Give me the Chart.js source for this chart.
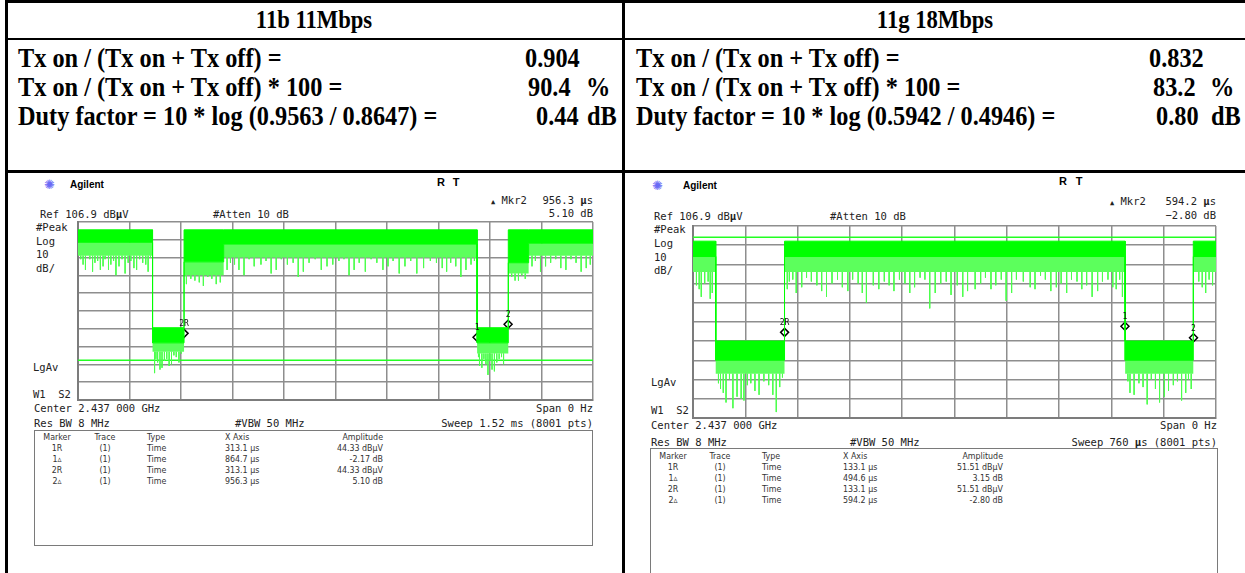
<!DOCTYPE html>
<html>
<head>
<meta charset="utf-8">
<title>Duty cycle 11b / 11g</title>
<script src="https://cdn.jsdelivr.net/npm/chart.js@4.4.0/dist/chart.umd.min.js"></script>
<style>
  body { margin: 0; width: 1245px; height: 573px; background: #fff; position: relative; overflow: hidden; }
  .ln { position: absolute; background: #000; }
  .t { position: absolute; white-space: nowrap; line-height: 1; }
  .l { transform: translateY(-50%); }
  .r { transform: translate(-100%, -50%); }
  .c { transform: translate(-50%, -50%); }
  .hd { font: bold 26px "Liberation Serif", "Times New Roman", serif; transform: translate(-50%, -50%) scaleX(0.87); }
  .rw { font: bold 27px "Liberation Serif", "Times New Roman", serif; transform: translateY(-50%) scaleX(0.9); transform-origin: 0 50%; }
  .sa { font: 10.5px "DejaVu Sans Mono", monospace; color: #222; }
  .tb { font: 8.8px "DejaVu Sans Condensed", "DejaVu Sans", sans-serif; color: #333; }
  .ag { font: bold 10px "Liberation Sans", Arial, sans-serif; }
  .logo { font: 13px "DejaVu Sans", sans-serif; color: #6a6af5; }
  .rt { font: bold 11px "Liberation Sans", Arial, sans-serif; }
  .box { position: absolute; border: 1.5px solid #7a7a7a; }
  canvas { position: absolute; }
</style>
</head>
<body>

<!-- table frame -->
<div class="ln" style="left:5px;top:0;width:1240px;height:3px"></div>
<div class="ln" style="left:5px;top:0;width:3px;height:573px"></div>
<div class="ln" style="left:622px;top:0;width:3px;height:573px"></div>
<div class="ln" style="left:5px;top:38px;width:1240px;height:2px"></div>
<div class="ln" style="left:5px;top:170px;width:1240px;height:3px"></div>

<div class="t hd" style="left:314px;top:20px">11b 11Mbps</div>
<div class="t hd" style="left:935px;top:20px">11g 18Mbps</div>

<!-- 11b results -->
<div class="t rw" style="left:18px;top:58px">Tx on / (Tx on + Tx off) =</div>
<div class="t rw" style="left:18px;top:87px">Tx on / (Tx on + Tx off) * 100 =</div>
<div class="t rw" style="left:18px;top:116px">Duty factor = 10 * log (0.9563 / 0.8647) =</div>
<div class="t rw" style="left:525px;top:58px">0.904</div>
<div class="t rw" style="left:528px;top:87px">90.4</div>
<div class="t rw" style="left:586px;top:87px">%</div>
<div class="t rw" style="left:536px;top:116px">0.44</div>
<div class="t rw" style="left:587px;top:116px">dB</div>

<!-- 11g results -->
<div class="t rw" style="left:636px;top:58px">Tx on / (Tx on + Tx off) =</div>
<div class="t rw" style="left:636px;top:87px">Tx on / (Tx on + Tx off) * 100 =</div>
<div class="t rw" style="left:636px;top:116px">Duty factor = 10 * log (0.5942 / 0.4946) =</div>
<div class="t rw" style="left:1149px;top:58px">0.832</div>
<div class="t rw" style="left:1153px;top:87px">83.2</div>
<div class="t rw" style="left:1210px;top:87px">%</div>
<div class="t rw" style="left:1156px;top:116px">0.80</div>
<div class="t rw" style="left:1211px;top:116px">dB</div>

<!-- 11b analyzer screen -->
<div class="t l logo" style="left:44px;top:184px">✺</div>
<div class="t l ag" style="left:70px;top:184px">Agilent</div>
<div class="t c rt" style="left:441px;top:182px">R</div>
<div class="t c rt" style="left:456px;top:182px">T</div>
<div class="t l sa" style="left:491px;top:200px"><span style="font-size:7px">▲</span> Mkr2</div>
<div class="t r sa" style="left:593px;top:200px">956.3 <b>µ</b>s</div>
<div class="t r sa" style="left:593px;top:213px">5.10 dB</div>
<div class="t l sa" style="left:40px;top:214px">Ref 106.9 dB<b>µ</b>V</div>
<div class="t l sa" style="left:213px;top:214px">#Atten 10 dB</div>
<div class="t l sa" style="left:36px;top:227px">#Peak</div>
<div class="t l sa" style="left:36px;top:241px">Log</div>
<div class="t l sa" style="left:36px;top:254px">10</div>
<div class="t l sa" style="left:36px;top:268px">dB/</div>
<div class="t l sa" style="left:33px;top:367px">LgAv</div>
<div class="t l sa" style="left:33px;top:394px">W1&nbsp;&nbsp;S2</div>
<div class="t l sa" style="left:34px;top:408px">Center 2.437 000 GHz</div>
<div class="t r sa" style="left:593px;top:408px">Span 0 Hz</div>
<div class="t l sa" style="left:34px;top:423px">Res BW 8 MHz</div>
<div class="t l sa" style="left:235px;top:423px">#VBW 50 MHz</div>
<div class="t r sa" style="left:593px;top:423px">Sweep 1.52 ms (8001 pts)</div>
<div class="box" style="left:34px;top:430px;width:557px;height:114px"></div>
<canvas id="chart11b" width="517" height="180" style="left:77px;top:221px"></canvas>

<!-- 11g analyzer screen -->
<div class="t l logo" style="left:652px;top:185px">✺</div>
<div class="t l ag" style="left:683px;top:185px">Agilent</div>
<div class="t c rt" style="left:1063px;top:181px">R</div>
<div class="t c rt" style="left:1079px;top:181px">T</div>
<div class="t l sa" style="left:1110px;top:201px"><span style="font-size:7px">▲</span> Mkr2</div>
<div class="t r sa" style="left:1216px;top:201px">594.2 <b>µ</b>s</div>
<div class="t r sa" style="left:1216px;top:215px">−2.80 dB</div>
<div class="t l sa" style="left:654px;top:216px">Ref 106.9 dB<b>µ</b>V</div>
<div class="t l sa" style="left:830px;top:216px">#Atten 10 dB</div>
<div class="t l sa" style="left:654px;top:229px">#Peak</div>
<div class="t l sa" style="left:654px;top:243px">Log</div>
<div class="t l sa" style="left:654px;top:257px">10</div>
<div class="t l sa" style="left:654px;top:270px">dB/</div>
<div class="t l sa" style="left:651px;top:382px">LgAv</div>
<div class="t l sa" style="left:651px;top:410px">W1&nbsp;&nbsp;S2</div>
<div class="t l sa" style="left:651px;top:425px">Center 2.437 000 GHz</div>
<div class="t r sa" style="left:1217px;top:425px">Span 0 Hz</div>
<div class="t l sa" style="left:651px;top:442px">Res BW 8 MHz</div>
<div class="t l sa" style="left:850px;top:442px">#VBW 50 MHz</div>
<div class="t r sa" style="left:1217px;top:442px">Sweep 760 <b>µ</b>s (8001 pts)</div>
<div class="box" style="left:650px;top:448px;width:566px;height:140px"></div>
<canvas id="chart11g" width="525" height="194" style="left:692px;top:225px"></canvas>

<script>
// reference level 106.9 dBµV, 10 dB/div, 10 divisions
const levelGrid = [6.9, 16.9, 26.9, 36.9, 46.9, 56.9, 66.9, 76.9, 86.9, 96.9, 106.9];

// ---- 11b 11Mbps, sweep 1.52 ms ----
const bTimeGrid = [0, 152, 304, 456, 608, 760, 912, 1064, 1216, 1368, 1520];
const bEdges = [0, 220, 313, 430, 1178, 1270, 1330, 1520];       // µs
const bTop   = [102.5, 47.5, 102.5, 102.5, 47.5, 102.5, 102.5];  // top of noise
const bCore  = [95.5, 39, 84.5, 94.5, 39, 84, 95];              // bottom of solid part
const bFloor = [88, 34, 77, 87, 33, 78, 88];                     // bottom of dense part
const bSpikes = [
  [8, 86], [15, 83], [22, 80], [35, 86], [43, 79], [50, 84], [58, 85], [66, 80], [74, 82],
  [80, 86], [90, 80], [97, 83], [105, 85], [112, 77], [121, 82], [130, 86], [139, 78],
  [148, 84], [156, 85], [165, 81], [173, 80], [182, 86], [191, 84], [200, 83], [207, 79], [214, 87],
  [226, 22], [230, 30], [235, 28], [242, 24], [248, 25], [255, 29], [262, 30], [269, 26],
  [276, 27], [283, 32], [290, 31], [298, 28], [305, 33],
  [320, 72], [333, 75], [345, 74], [358, 73], [370, 71], [383, 76], [395, 75], [408, 72], [420, 73],
  [440, 80], [450, 84], [462, 83], [475, 80], [490, 77], [505, 86], [520, 82], [540, 83],
  [555, 85], [570, 78], [585, 80], [600, 86], [618, 83], [635, 84], [650, 76], [665, 79],
  [682, 84], [700, 86], [718, 80], [735, 82], [752, 83], [770, 85], [785, 86], [800, 77],
  [815, 80], [830, 84], [848, 79], [865, 86], [882, 84], [900, 80], [915, 82], [930, 85],
  [948, 78], [965, 82], [982, 85], [1000, 78], [1020, 81], [1040, 85], [1058, 84], [1075, 81],
  [1088, 79], [1100, 84], [1115, 82], [1130, 76], [1145, 80], [1160, 83], [1170, 85],
  [1182, 31], [1185, 26], [1192, 25], [1198, 30], [1204, 27], [1210, 21], [1216, 29],
  [1222, 24], [1229, 23], [1236, 28], [1243, 30], [1250, 31], [1256, 27], [1262, 33],
  [1280, 76], [1290, 74], [1300, 74], [1310, 77], [1320, 75],
  [1340, 82], [1350, 85], [1365, 79], [1380, 82], [1395, 84], [1410, 86], [1425, 81],
  [1440, 80], [1455, 86], [1470, 84], [1485, 79], [1500, 81], [1512, 83]
];
const bDisplayLine = 29.2;
const bMkrTime  = [313.1, 1177.8, 1269.4];
const bMkrLevel = [44.33, 42.16, 49.43];
const bMkrLabel = ['2R', '1', '2'];
const bTable = [
  ['1R', '(1)', 'Time', '313.1 µs', '44.33 dBµV'],
  ['1▵', '(1)', 'Time', '864.7 µs', '-2.17 dB'],
  ['2R', '(1)', 'Time', '313.1 µs', '44.33 dBµV'],
  ['2▵', '(1)', 'Time', '956.3 µs', '5.10 dB']
];

// ---- 11g 18Mbps, sweep 760 µs ----
const gTimeGrid = [0, 76, 152, 228, 304, 380, 456, 532, 608, 684, 760];
const gEdges = [0, 33, 133, 628, 727, 760];
const gTop   = [99, 47, 99, 47, 99];
const gCore  = [91, 37, 91, 37, 91];
const gFloor = [83, 30, 83, 30, 83];
const gSpikes = [
  [5, 76], [9, 74], [12, 70], [17, 77], [22, 78], [25, 69], [28, 72],
  [37, 25], [40, 22], [44, 20], [48, 15], [53, 27], [58, 12], [64, 18], [70, 17], [74, 16],
  [79, 24], [84, 25], [90, 21], [96, 19], [103, 26], [110, 24], [116, 19], [121, 10], [126, 23], [130, 28],
  [137, 74], [140, 78], [145, 79], [150, 72], [158, 75], [165, 80], [172, 78], [180, 76],
  [187, 73], [194, 70], [202, 77], [210, 79], [217, 75], [225, 73], [232, 79], [240, 77],
  [246, 72], [252, 67], [262, 76], [270, 74], [278, 78], [285, 76], [292, 73], [300, 79],
  [308, 77], [315, 72], [322, 75], [330, 80], [337, 79], [344, 64], [352, 72], [360, 77],
  [368, 78], [375, 71], [384, 76], [392, 70], [399, 73], [410, 74], [418, 77], [425, 80],
  [433, 74], [440, 76], [448, 79], [455, 68], [463, 72], [470, 79], [480, 78], [490, 75],
  [497, 74], [505, 81], [512, 79], [520, 73], [528, 75], [535, 77], [543, 72], [550, 79],
  [558, 78], [565, 74], [572, 76], [580, 70], [588, 73], [595, 78], [603, 79], [610, 75],
  [615, 74], [620, 79], [624, 70],
  [632, 26], [635, 20], [641, 19], [648, 25], [654, 23], [660, 14], [666, 27], [672, 22],
  [678, 15], [685, 18], [691, 21], [698, 24], [704, 26], [710, 16], [716, 20], [720, 27], [724, 22],
  [735, 78], [740, 75], [745, 72], [750, 79], [755, 76]
];
const gDisplayLine = 101;
const gMkrTime  = [133.1, 627.7, 727.3];
const gMkrLevel = [51.51, 54.66, 48.71];
const gMkrLabel = ['2R', '1', '2'];
const gTable = [
  ['1R', '(1)', 'Time', '133.1 µs', '51.51 dBµV'],
  ['1▵', '(1)', 'Time', '494.6 µs', '3.15 dB'],
  ['2R', '(1)', 'Time', '133.1 µs', '51.51 dBµV'],
  ['2▵', '(1)', 'Time', '594.2 µs', '-2.80 dB']
];
const tableHead = ['Marker', 'Trace', 'Type', 'X Axis', 'Amplitude'];

// step outline of a segmented band
function steps(edges, vals) {
  const pts = [];
  vals.forEach((v, i) => {
    pts.push({ x: edges[i], y: v }, { x: edges[i + 1], y: v });
  });
  return pts;
}

function levelAt(edges, vals, t) {
  for (let i = 0; i < vals.length; i++) {
    if (t >= edges[i] && t < edges[i + 1]) return vals[i];
  }
  return vals[vals.length - 1];
}

// little labels above the marker diamonds
const markerLabels = {
  id: 'markerLabels',
  afterDatasetsDraw(chart) {
    const { ctx } = chart;
    const idx = chart.data.datasets.findIndex(d => d.mkrLabels);
    const ds = chart.data.datasets[idx];
    const meta = chart.getDatasetMeta(idx);
    ctx.save();
    ctx.fillStyle = '#111';
    ctx.font = '8px "DejaVu Sans Mono", monospace';
    ctx.textAlign = 'center';
    ctx.textBaseline = 'bottom';
    meta.data.forEach((pt, i) => {
      ctx.fillText(ds.mkrLabels[i], pt.x, pt.y - 5);
    });
    ctx.restore();
  }
};

function drawTrace(id, edges, top, core, floor, spikes, displayLvl, mkrT, mkrL, mkrLbl, timeGrid) {
  let spk = [];
  spikes.forEach(([t, lv]) => {
    spk.push({ x: t, y: levelAt(edges, floor, t) }, { x: t, y: lv }, { x: t, y: null });
  });

  const sweep = timeGrid[timeGrid.length - 1];
  const gridStyle = { color: '#8e8e8e', lineWidth: 1.5, drawTicks: false };

  new Chart(document.getElementById(id).getContext('2d'), {
    type: 'line',
    data: {
      datasets: [
        { data: steps(edges, top), borderColor: '#00ff00', borderWidth: 1, fill: false },
        { data: steps(edges, core), borderColor: '#00ff00', borderWidth: 1, fill: '-1', backgroundColor: '#00ff00' },
        { data: steps(edges, floor), borderColor: 'rgba(0,0,0,0)', borderWidth: 0, fill: '-1', backgroundColor: '#5cff5c' },
        { data: spk, borderColor: '#4cff4c', borderWidth: 1, spanGaps: false },
        { data: [{ x: 0, y: displayLvl }, { x: sweep, y: displayLvl }], borderColor: '#22ff22', borderWidth: 1.5 },
        {
          data: mkrT.map((t, i) => ({ x: t, y: mkrL[i] })),
          mkrLabels: mkrLbl,
          showLine: false,
          pointStyle: 'rectRot',
          pointRadius: 4,
          pointBorderWidth: 1.5,
          pointBorderColor: '#000',
          pointBackgroundColor: 'rgba(0,0,0,0)'
        }
      ]
    },
    plugins: [markerLabels],
    options: {
      responsive: false,
      devicePixelRatio: 1,
      animation: false,
      layout: { padding: 1, autoPadding: false },
      elements: { point: { radius: 0 }, line: { tension: 0 } },
      plugins: { legend: { display: false }, tooltip: { enabled: false } },
      scales: {
        x: {
          type: 'linear', min: 0, max: sweep,
          ticks: { display: false },
          grid: gridStyle,
          border: { color: '#7c7c7c', width: 2 },
          afterFit: s => { s.height = 0; },
          afterBuildTicks: s => { s.ticks = timeGrid.map(v => ({ value: v })); }
        },
        y: {
          min: levelGrid[0], max: levelGrid[levelGrid.length - 1],
          ticks: { display: false },
          grid: gridStyle,
          border: { color: '#7c7c7c', width: 2 },
          afterFit: s => { s.width = 0; },
          afterBuildTicks: s => { s.ticks = levelGrid.map(v => ({ value: v })); }
        }
      }
    }
  });
}

// marker table text under each screen
function drawTable(rows, cols, y0) {
  const all = [tableHead].concat(rows);
  all.forEach((row, r) => {
    row.forEach((txt, c) => {
      const d = document.createElement('div');
      d.className = 't tb ' + cols[c].a;
      d.style.left = cols[c].x + 'px';
      d.style.top = (y0 + r * 11.2) + 'px';
      d.textContent = txt;
      document.body.appendChild(d);
    });
  });
}

drawTrace('chart11b', bEdges, bTop, bCore, bFloor, bSpikes, bDisplayLine, bMkrTime, bMkrLevel, bMkrLabel, bTimeGrid);
drawTrace('chart11g', gEdges, gTop, gCore, gFloor, gSpikes, gDisplayLine, gMkrTime, gMkrLevel, gMkrLabel, gTimeGrid);

drawTable(bTable, [
  { x: 57, a: 'c' }, { x: 105, a: 'c' }, { x: 147, a: 'l' }, { x: 225, a: 'l' }, { x: 383, a: 'r' }
], 436.5);
drawTable(gTable, [
  { x: 673, a: 'c' }, { x: 720, a: 'c' }, { x: 762, a: 'l' }, { x: 843, a: 'l' }, { x: 1003, a: 'r' }
], 455.5);
</script>
</body>
</html>
